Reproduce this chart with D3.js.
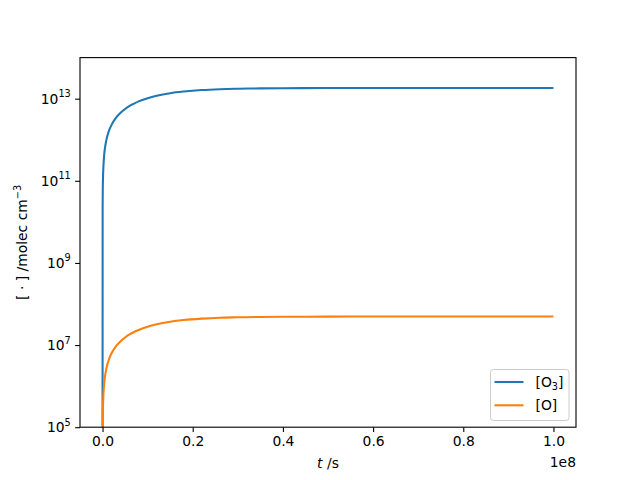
<!DOCTYPE html>
<html>
<head>
<meta charset="utf-8">
<script src="https://cdn.jsdelivr.net/npm/d3@7"></script>
<style>
  body { margin: 0; background: #fff; }
  text { font-family: "DejaVu Sans", sans-serif; }
</style>
</head>
<body>
<div id="chart"></div>
<script>
// time points (s) and concentrations (molec cm^-3)
const times = [0, 2e4, 5e4, 1e5, 2e5, 4e5, 7e5, 1e6, 1.5e6, 2e6, 3e6, 4e6, 5e6, 6e6, 7e6, 8e6,
               1e7, 1.2e7, 1.5e7, 1.8e7, 2.2e7, 2.6e7, 3e7, 3.5e7, 4e7, 5e7, 6e7, 7e7, 8e7, 9e7, 1e8];
const o3 = [0, 2.3e10, 5.8e10, 1.16e11, 2.3e11, 4.7e11, 8.1e11, 1.16e12, 1.74e12, 2.3e12,
            3.45e12, 4.55e12, 5.6e12, 6.7e12, 7.6e12, 8.6e12, 1.03e13, 1.18e13, 1.36e13, 1.49e13,
            1.62e13, 1.7e13, 1.745e13, 1.78e13, 1.8e13, 1.815e13, 1.82e13, 1.82e13, 1.82e13, 1.82e13, 1.82e13];
const o = [0, 6.3e4, 1.6e5, 3.2e5, 6.3e5, 1.27e6, 2.2e6, 3.17e6, 4.75e6, 6.3e6,
           9.4e6, 1.24e7, 1.53e7, 1.81e7, 2.08e7, 2.33e7, 2.8e7, 3.2e7, 3.69e7, 4.06e7,
           4.4e7, 4.64e7, 4.74e7, 4.84e7, 4.89e7, 4.93e7, 4.95e7, 4.95e7, 4.95e7, 4.95e7, 4.95e7];
const xTicks = [0, 0.2e8, 0.4e8, 0.6e8, 0.8e8, 1e8];
const yTicks = [1e5, 1e7, 1e9, 1e11, 1e13];
const seriesNames = ["[O3]", "[O]"];
const colors = ["#1f77b4", "#ff7f0e"];

const width = 640, height = 480;
const margin = { top: 57.6, right: 64, bottom: 52.8, left: 80 };
const fs = 13.89;

const svg = d3.select("#chart").append("svg")
    .attr("width", width).attr("height", height);

const x = d3.scaleLinear().domain([-0.05e8, 1.05e8])
    .range([margin.left, width - margin.right]);
const y = d3.scaleLog().domain([1e5, 1e14])
    .range([height - margin.bottom, margin.top]);

svg.append("clipPath").attr("id", "clip").append("rect")
    .attr("x", margin.left).attr("y", margin.top)
    .attr("width", width - margin.left - margin.right)
    .attr("height", height - margin.top - margin.bottom);

// values <= 0 are pushed below the axis, like matplotlib's clip
const line = d3.line()
    .x(d => x(d[0]))
    .y(d => y(Math.max(d[1], 1e3)))
    .curve(d3.curveMonotoneX);

[o3, o].forEach((vals, i) => {
    svg.append("path")
        .datum(times.map((t, j) => [t, vals[j]]))
        .attr("clip-path", "url(#clip)")
        .attr("fill", "none")
        .attr("stroke", colors[i])
        .attr("stroke-width", 2.08)
        .attr("d", line);
});

// axes frame
svg.append("rect")
    .attr("x", margin.left).attr("y", margin.top)
    .attr("width", width - margin.left - margin.right)
    .attr("height", height - margin.top - margin.bottom)
    .attr("fill", "none").attr("stroke", "#000").attr("stroke-width", 1.1);

// x axis
const xAxis = svg.append("g")
    .attr("transform", `translate(0,${height - margin.bottom})`)
    .call(d3.axisBottom(x).tickValues(xTicks).tickSize(4.86).tickPadding(4.5)
        .tickFormat(d => (d / 1e8).toFixed(1)));
xAxis.select(".domain").remove();
xAxis.selectAll("line").attr("stroke-width", 1.1);
xAxis.selectAll("text").attr("font-size", fs).attr("fill", "#000")
    .attr("font-family", "DejaVu Sans");

svg.append("text")
    .attr("x", width - margin.right).attr("y", 467)
    .attr("text-anchor", "end").attr("font-size", fs).text("1e8");

// y axis
const yAxis = svg.append("g")
    .attr("transform", `translate(${margin.left},0)`)
    .call(d3.axisLeft(y).tickValues(yTicks).tickSize(4.86).tickFormat(""));
yAxis.select(".domain").remove();
yAxis.selectAll("line").attr("stroke-width", 1.1);

yTicks.forEach(v => {
    const t = svg.append("text")
        .attr("x", margin.left - 9.2).attr("y", y(v) + 5)
        .attr("text-anchor", "end").attr("font-size", fs);
    t.append("tspan").text("10");
    t.append("tspan").attr("font-size", fs * 0.7).attr("dy", -6.5)
        .text(Math.round(Math.log10(v)));
});

// axis labels
const xl = svg.append("text")
    .attr("x", (margin.left + width - margin.right) / 2).attr("y", 468)
    .attr("text-anchor", "middle").attr("font-size", fs);
xl.append("tspan").attr("font-style", "italic").text("t");
xl.append("tspan").text(" /s");

const yl = svg.append("text")
    .attr("transform", `translate(27,${(margin.top + height - margin.bottom) / 2}) rotate(-90)`)
    .attr("text-anchor", "middle").attr("font-size", fs);
yl.append("tspan").text("[ · ] /molec cm");
yl.append("tspan").attr("font-size", fs * 0.7).attr("dy", -6).text("−3");

// legend
const lg = svg.append("g").attr("transform", "translate(490.5,369.5)");
lg.append("rect").attr("width", 78.5).attr("height", 51).attr("rx", 2.8)
    .attr("fill", "#fff").attr("fill-opacity", 0.8)
    .attr("stroke", "#cccccc").attr("stroke-width", 1);
seriesNames.forEach((name, i) => {
    const cy = 12.5 + i * 23.3;
    lg.append("line").attr("x1", 4).attr("x2", 33).attr("y1", cy).attr("y2", cy)
        .attr("stroke", colors[i]).attr("stroke-width", 2.08);
    const t = lg.append("text").attr("x", 45).attr("y", cy + 5).attr("font-size", fs);
    if (name === "[O3]") {
        t.append("tspan").text("[O");
        t.append("tspan").attr("font-size", fs * 0.7).attr("dy", 3).text("3");
        t.append("tspan").attr("dy", -3).text("]");
    } else {
        t.text(name);
    }
});
</script>
</body>
</html>
